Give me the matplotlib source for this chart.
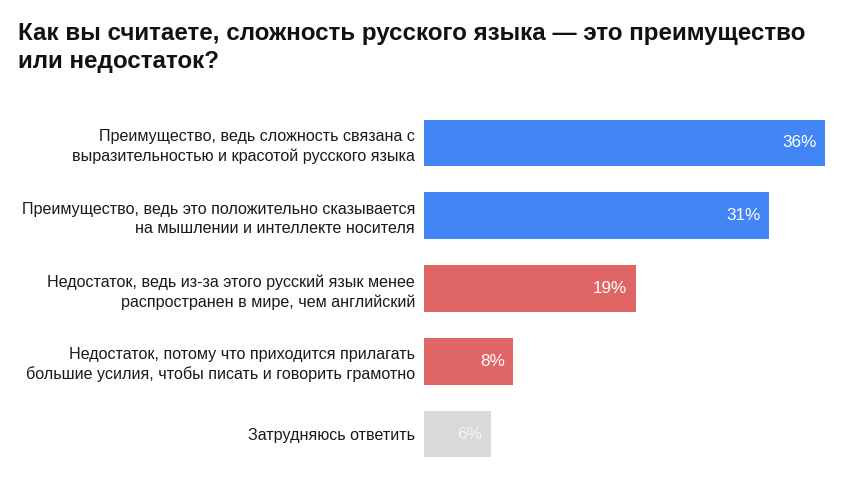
import matplotlib
matplotlib.use("Agg")
import matplotlib.pyplot as plt

categories = [
    "Преимущество, ведь сложность связана с\nвыразительностью и красотой русского языка",
    "Преимущество, ведь это положительно сказывается\nна мышлении и интеллекте носителя",
    "Недостаток, ведь из-за этого русский язык менее\nраспространен в мире, чем английский",
    "Недостаток, потому что приходится прилагать\nбольшие усилия, чтобы писать и говорить грамотно",
    "Затрудняюсь ответить",
]
values = [36, 31, 19, 8, 6]
colors = ["#4285F4", "#4285F4", "#E06666", "#E06666", "#D9D9D9"]
title = "Как вы считаете, сложность русского языка — это преимущество\nили недостаток?"

W, H = 861, 483
fig = plt.figure(figsize=(W/100, H/100), dpi=100)
fig.patch.set_facecolor("white")
ax_left, ax_right = 424, 825
ax_top, ax_bot = 106.6, 470.4
ax = fig.add_axes([ax_left/W, 1 - ax_bot/H, (ax_right-ax_left)/W, (ax_bot-ax_top)/H])
ax.set_xlim(0, 36)
ax.set_ylim(4.5, -0.5)
ys = list(range(len(values)))
ax.barh(ys, values, height=0.645, color=colors, edgecolor="none")
for s in ax.spines.values():
    s.set_visible(False)
ax.set_xticks([])
ax.set_yticks(ys)
ax.set_yticklabels(categories, fontsize=11.6, family="Liberation Sans", color="#1a1a1a", linespacing=1.32)
ax.tick_params(axis="y", length=0, pad=6.5)
for y, v in zip(ys, values):
    ax.annotate(f"{v}%", xy=(v, y), xytext=(-6, 0), textcoords="offset points", ha="right", va="center",
                fontsize=12.3, family="Liberation Sans", color="white" if v > 6 else "#f4f4f4")
fig.text(18/W, 1 - 22/H, title, ha="left", va="top", fontsize=17.4, fontweight="bold",
         family="Liberation Sans", color="#111111", linespacing=1.3)
fig.savefig("out.png", dpi=100)
